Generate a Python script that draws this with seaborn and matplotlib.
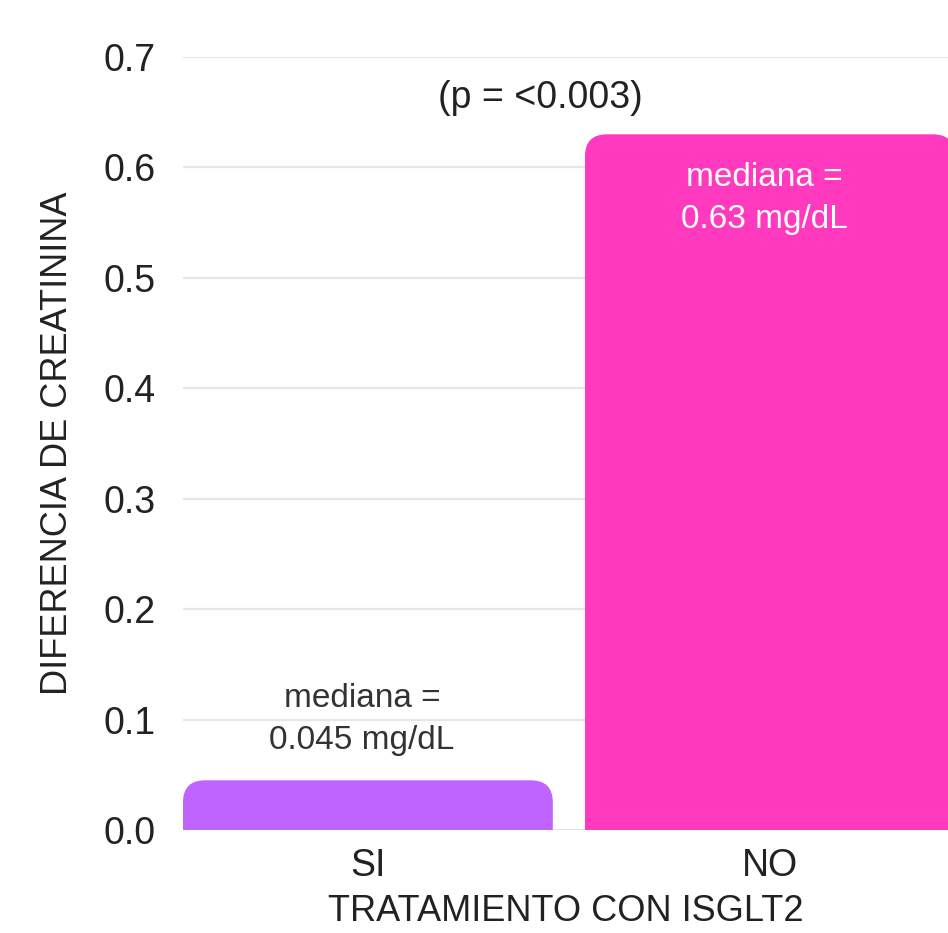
import matplotlib
matplotlib.use("Agg")
import matplotlib.pyplot as plt
from matplotlib.patches import FancyBboxPatch
import pandas as pd
import seaborn as sns

# Median change in creatinine by SGLT2-inhibitor treatment
categories = ["SI", "NO"]
medians = [0.045, 0.63]
bar_labels = ["mediana =\n0.045 mg/dL", "mediana =\n0.63 mg/dL"]
p_text = "(p = <0.003)"
y_ticks = [0.0, 0.1, 0.2, 0.3, 0.4, 0.5, 0.6, 0.7]
x_title = "TRATAMIENTO CON ISGLT2"
y_title = "DIFERENCIA DE CREATININA"

colors = {"SI": "#C064FF", "NO": "#FF3ABE"}
label_colors = ["#333333", "#FFFFFF"]

sns.set_theme(style="white")
plt.rcParams["font.family"] = ["Liberation Sans", "DejaVu Sans"]

df = pd.DataFrame({"tratamiento": categories, "mediana": medians})

fig = plt.figure(figsize=(9.48, 9.33), dpi=100)
W, H = 948, 933
ax = fig.add_axes([183 / W, 1 - 830 / H, 1 - 183 / W, (830 - 57) / H])

sns.barplot(data=df, x="tratamiento", y="mediana", hue="tratamiento",
            palette=colors, order=categories, width=0.92, legend=False,
            saturation=1, ax=ax, zorder=2)

ax.set_xlim(-0.46, 1.443)
ax.set_ylim(0, 0.7)
ax.set_yticks(y_ticks)
ax.set_yticklabels([f"{t:.1f}" for t in y_ticks])

# Replace the square bars with bars rounded at the top corners
px_x = 402.0   # pixels per x unit
px_y = 1104.3  # pixels per y unit
radius_px = 22
aspect = px_x / px_y
for patch in list(ax.patches):
    x0 = patch.get_x()
    w = patch.get_width()
    h = patch.get_height()
    fc = patch.get_facecolor()
    patch.set_visible(False)
    ext = 0.05
    rounded = FancyBboxPatch(
        (x0, -ext), w, h + ext,
        boxstyle=f"round,pad=0,rounding_size={radius_px / px_x}",
        mutation_aspect=aspect, facecolor=fc, edgecolor="none",
        zorder=2, clip_on=True)
    ax.add_patch(rounded)

# Median annotations
for i, (val, txt) in enumerate(zip(medians, bar_labels)):
    if val < 0.3:
        ypos = val + 0.055
    else:
        ypos = val - 0.058
    ax.text(i - 0.015, ypos, txt, ha="center", va="center", fontsize=24,
            color=label_colors[i], linespacing=1.45, zorder=3)

ax.text(0.43, 0.663, p_text, ha="center", va="center", fontsize=27,
        color="#222222", zorder=3)

ax.grid(axis="y", color="#E6E6E6", linewidth=1.6, zorder=0)
ax.grid(axis="x", visible=False)
ax.set_axisbelow(True)
for s in ax.spines.values():
    s.set_visible(False)

ax.tick_params(axis="both", length=0, colors="#222222", labelsize=27)
ax.tick_params(axis="y", pad=20)
ax.tick_params(axis="x", pad=13)
ax.set_xlabel(x_title, fontsize=26, color="#222222", labelpad=7)
ax.set_ylabel(y_title, fontsize=26, color="#222222", labelpad=20)

fig.savefig("out.png", dpi=100)
